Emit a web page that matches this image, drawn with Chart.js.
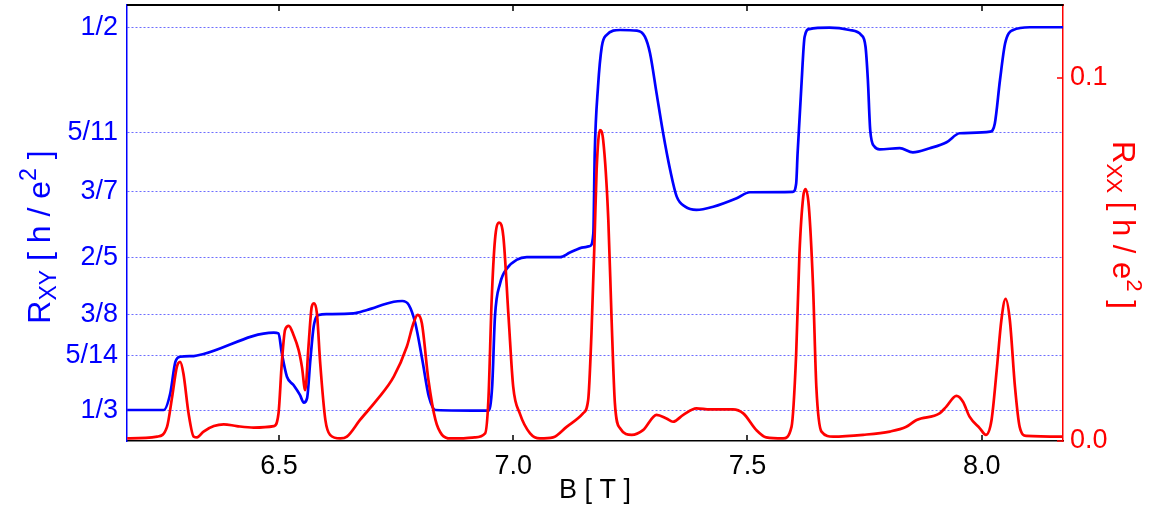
<!DOCTYPE html>
<html>
<head>
<meta charset="utf-8">
<script src="https://cdn.jsdelivr.net/npm/chart.js@4.4.0/dist/chart.umd.min.js"></script>
<style>
  html, body { margin: 0; padding: 0; background: #fff; }
</style>
</head>
<body>
<canvas id="hallChart" width="1163" height="506"></canvas>
<script>
// Hall resistance trace (B in T, R_xy in h/e^2)
var bXY = [6.176, 6.254, 6.268, 6.279, 6.289, 6.318, 6.339, 6.489, 6.499, 6.506,
    6.517, 6.531, 6.545, 6.553, 6.560, 6.567, 6.574, 6.585, 6.602, 6.659,
    6.688, 6.745, 6.763, 6.777, 6.791, 6.806, 6.820, 6.834, 6.947, 6.955,
    6.961, 6.972, 6.987, 7.007, 7.029, 7.100, 7.121, 7.150, 7.164, 7.171,
    7.174, 7.181, 7.189, 7.199, 7.228, 7.264, 7.281, 7.292, 7.306, 7.320,
    7.335, 7.349, 7.367, 7.391, 7.427, 7.477, 7.505, 7.597, 7.604, 7.607,
    7.615, 7.622, 7.632, 7.675, 7.718, 7.743, 7.752, 7.757, 7.762, 7.771,
    7.782, 7.825, 7.853, 7.889, 7.925, 7.953, 8.018, 8.028, 8.039, 8.050,
    8.067, 8.103, 8.174];
var rXY = [0.3335, 0.3335, 0.3408, 0.3546, 0.3567, 0.3570, 0.3579, 0.3672, 0.3669, 0.3583,
    0.3480, 0.3444, 0.3400, 0.3367, 0.3387, 0.3553, 0.3698, 0.3749, 0.3753, 0.3756,
    0.3771, 0.3807, 0.3810, 0.3793, 0.3713, 0.3553, 0.3393, 0.3335, 0.3332, 0.3437,
    0.3742, 0.3887, 0.3953, 0.3989, 0.4001, 0.4001, 0.4021, 0.4044, 0.4050, 0.4105,
    0.4454, 0.4744, 0.4918, 0.4969, 0.4991, 0.4988, 0.4962, 0.4890, 0.4715, 0.4541,
    0.4381, 0.4265, 0.4221, 0.4207, 0.4221, 0.4258, 0.4284, 0.4286, 0.4323, 0.4454,
    0.4744, 0.4962, 0.4995, 0.5001, 0.4991, 0.4969, 0.4918, 0.4773, 0.4555, 0.4483,
    0.4471, 0.4476, 0.4458, 0.4476, 0.4502, 0.4541, 0.4548, 0.4584, 0.4773, 0.4933,
    0.4991, 0.5003, 0.5003];

// longitudinal resistance trace (B in T, R_xx in h/e^2)
var bXX = [6.176, 6.240, 6.261, 6.272, 6.282, 6.289, 6.296, 6.307, 6.318, 6.325,
    6.339, 6.361, 6.382, 6.410, 6.446, 6.489, 6.499, 6.506, 6.513, 6.521,
    6.531, 6.542, 6.549, 6.556, 6.563, 6.570, 6.575, 6.581, 6.588, 6.599,
    6.609, 6.631, 6.645, 6.673, 6.709, 6.745, 6.773, 6.787, 6.796, 6.805,
    6.819, 6.834, 6.848, 6.866, 6.886, 6.918, 6.940, 6.947, 6.954, 6.961,
    6.970, 6.979, 6.990, 7.000, 7.014, 7.036, 7.057, 7.085, 7.114, 7.149,
    7.160, 7.167, 7.174, 7.178, 7.185, 7.192, 7.203, 7.210, 7.217, 7.228,
    7.253, 7.277, 7.306, 7.327, 7.341, 7.363, 7.391, 7.420, 7.469, 7.491,
    7.519, 7.540, 7.576, 7.594, 7.604, 7.611, 7.619, 7.624, 7.631, 7.640,
    7.647, 7.658, 7.683, 7.747, 7.804, 7.839, 7.861, 7.910, 7.924, 7.946,
    7.960, 7.974, 7.996, 8.009, 8.021, 8.032, 8.042, 8.051, 8.060, 8.071,
    8.081, 8.095, 8.174];
var rXX = [0.0007, 0.0012, 0.0039, 0.0122, 0.0204, 0.0218, 0.0186, 0.0076, 0.0012, 0.0010,
    0.0026, 0.0041, 0.0046, 0.0041, 0.0037, 0.0041, 0.0076, 0.0214, 0.0306, 0.0317,
    0.0292, 0.0250, 0.0204, 0.0140, 0.0260, 0.0370, 0.0379, 0.0351, 0.0214, 0.0058,
    0.0017, 0.0007, 0.0012, 0.0058, 0.0113, 0.0177, 0.0260, 0.0324, 0.0347, 0.0324,
    0.0168, 0.0058, 0.0017, 0.0007, 0.0007, 0.0010, 0.0021, 0.0113, 0.0388, 0.0553,
    0.0601, 0.0562, 0.0342, 0.0149, 0.0076, 0.0021, 0.0007, 0.0010, 0.0039, 0.0076,
    0.0113, 0.0296, 0.0572, 0.0746, 0.0856, 0.0828, 0.0608, 0.0333, 0.0104, 0.0035,
    0.0017, 0.0030, 0.0072, 0.0062, 0.0053, 0.0072, 0.0090, 0.0087, 0.0087, 0.0076,
    0.0030, 0.0010, 0.0007, 0.0039, 0.0241, 0.0517, 0.0672, 0.0693, 0.0645, 0.0425,
    0.0149, 0.0026, 0.0012, 0.0017, 0.0026, 0.0039, 0.0058, 0.0076, 0.0094, 0.0124,
    0.0108, 0.0067, 0.0035, 0.0017, 0.0058, 0.0195, 0.0333, 0.0391, 0.0333, 0.0149,
    0.0039, 0.0014, 0.0012];

var bTicks = [6.5, 7.0, 7.5, 8.0];
var rxyTicks = [1/3, 5/14, 3/8, 2/5, 3/7, 5/11, 1/2];
var rxyLabels = ['1/3', '5/14', '3/8', '2/5', '3/7', '5/11', '1/2'];
var rxxTicks = [0, 0.1];
var rxxLabels = ['0.0', '0.1'];

var FONT = '"Liberation Sans", Arial, Helvetica, sans-serif';
var BLUE = '#0000ff';
var RED = '#ff0000';

function toPoints(xs, ys) {
    return xs.map(function(x, i) { return { x: x, y: ys[i] }; });
}

// keep the plot box where the reference has it, labels may overhang
function noPad(scale) {
    scale.paddingTop = 0;
    scale.paddingBottom = 0;
    scale.paddingLeft = 0;
    scale.paddingRight = 0;
}

function bTickList(scale) {
    scale.ticks = bTicks.map(function(v) { return { value: v }; });
}

// text with sub/superscript pieces, centred on the current origin
function drawRich(ctx, parts, size) {
    var widths = parts.map(function(p) {
        ctx.font = (p[1] ? size * 0.72 : size) + 'px ' + FONT;
        return ctx.measureText(p[0]).width;
    });
    var total = widths.reduce(function(a, b) { return a + b; }, 0);
    var x = -total / 2;
    parts.forEach(function(p, i) {
        ctx.font = (p[1] ? size * 0.72 : size) + 'px ' + FONT;
        var dy = p[1] === 'sub' ? size * 0.2 : (p[1] === 'sup' ? -size * 0.45 : 0);
        ctx.fillText(p[0], x, dy);
        x += widths[i];
    });
}

var framePlugin = {
    id: 'frame',
    afterDraw: function(chart) {
        var ctx = chart.ctx;
        var xs = chart.scales.x;
        var yl = chart.scales.yL;
        var yr = chart.scales.yR;
        var L = xs.left, R = xs.right, T = yl.top, Bt = yl.bottom;
        ctx.save();
        ctx.setLineDash([]);
        ctx.globalAlpha = 1;
        ctx.globalCompositeOperation = 'source-over';
        // top frame line and inward ticks
        ctx.fillStyle = '#000';
        ctx.fillRect(L, T - 1, R - L, 2);
        bTicks.forEach(function(v) {
            var px = Math.round(xs.getPixelForValue(v));
            ctx.fillRect(px - 0.75, Bt - 6, 1.5, 6);
            ctx.fillRect(px - 0.75, T, 1.5, 6);
        });
        ctx.fillStyle = RED;
        rxxTicks.forEach(function(v) {
            var py = Math.round(yr.getPixelForValue(v));
            ctx.fillRect(R - 6, py - 0.75, 6, 1.5);
        });

        // axis titles
        ctx.textBaseline = 'alphabetic';
        ctx.fillStyle = '#000';
        ctx.font = '27px ' + FONT;
        ctx.textAlign = 'center';
        ctx.fillText('B [ T ]', 595, 498);
        ctx.textAlign = 'left';

        ctx.save();
        ctx.fillStyle = BLUE;
        ctx.translate(50, 237);
        ctx.rotate(-Math.PI / 2);
        drawRich(ctx, [['R', ''], ['XY', 'sub'], [' [ h / e', ''], ['2', 'sup'], [' ]', '']], 32);
        ctx.restore();

        ctx.save();
        ctx.fillStyle = RED;
        ctx.translate(1113, 225);
        ctx.rotate(Math.PI / 2);
        drawRich(ctx, [['R', ''], ['XX', 'sub'], [' [ h / e', ''], ['2', 'sup'], [' ]', '']], 31);
        ctx.restore();

        ctx.restore();
    }
};

var ctx = document.getElementById('hallChart').getContext('2d');
var hallChart = new Chart(ctx, {
    type: 'line',
    data: {
        datasets: [{
            label: 'R_xy',
            data: toPoints(bXY, rXY),
            yAxisID: 'yL',
            borderColor: BLUE,
            borderWidth: 2.7,
            pointRadius: 0,
            cubicInterpolationMode: 'monotone',
            order: 1
        }, {
            label: 'R_xx',
            data: toPoints(bXX, rXX),
            yAxisID: 'yR',
            borderColor: RED,
            borderWidth: 2.7,
            pointRadius: 0,
            cubicInterpolationMode: 'monotone',
            order: 0
        }]
    },
    options: {
        responsive: false,
        animation: false,
        layout: { padding: { top: 0, left: 0, right: 0, bottom: 0 } },
        plugins: {
            legend: { display: false },
            tooltip: { enabled: false }
        },
        scales: {
            x: {
                type: 'linear',
                min: 6.1756,
                max: 8.1735,
                afterBuildTicks: bTickList,
                afterFit: function(scale) { scale.height = 65; noPad(scale); },
                grid: { display: false, drawTicks: false },
                border: { display: true, color: '#000', width: 1.5 },
                ticks: {
                    autoSkip: false,
                    maxRotation: 0,
                    padding: 9,
                    color: '#000',
                    font: { family: FONT, size: 27 },
                    callback: function(v) { return Number(v).toFixed(1); }
                }
            },
            // top edge of the box: same B range, no labels, black border line
            xTop: {
                type: 'linear',
                position: 'top',
                min: 6.1756,
                max: 8.1735,
                afterBuildTicks: bTickList,
                afterFit: function(scale) { scale.height = 5; noPad(scale); },
                grid: { display: false, drawTicks: false },
                border: { display: true, color: '#000', width: 2 },
                ticks: { display: false }
            },
            yL: {
                type: 'linear',
                position: 'left',
                min: 0.32,
                max: 0.51,
                afterBuildTicks: function(scale) {
                    scale.ticks = rxyTicks.map(function(v) { return { value: v }; });
                },
                afterFit: function(scale) { scale.width = 127; noPad(scale); },
                grid: { display: true, drawTicks: false, color: 'rgba(60, 60, 255, 0.75)', lineWidth: 1 },
                border: { display: true, color: BLUE, width: 1.5, dash: [2, 2] },
                ticks: {
                    autoSkip: false,
                    padding: 9,
                    color: BLUE,
                    font: { family: FONT, size: 27 },
                    callback: function(v, i) { return rxyLabels[i]; }
                }
            },
            yR: {
                type: 'linear',
                position: 'right',
                min: 0,
                max: 0.12,
                afterBuildTicks: function(scale) {
                    scale.ticks = rxxTicks.map(function(v) { return { value: v }; });
                },
                afterFit: function(scale) { scale.width = 100; noPad(scale); },
                grid: { display: false, drawTicks: false, drawOnChartArea: false },
                border: { display: true, color: RED, width: 1.5 },
                ticks: {
                    autoSkip: false,
                    padding: 7,
                    color: RED,
                    font: { family: FONT, size: 27 },
                    callback: function(v, i) { return rxxLabels[i]; }
                }
            }
        }
    },
    plugins: [framePlugin]
});
</script>
</body>
</html>
